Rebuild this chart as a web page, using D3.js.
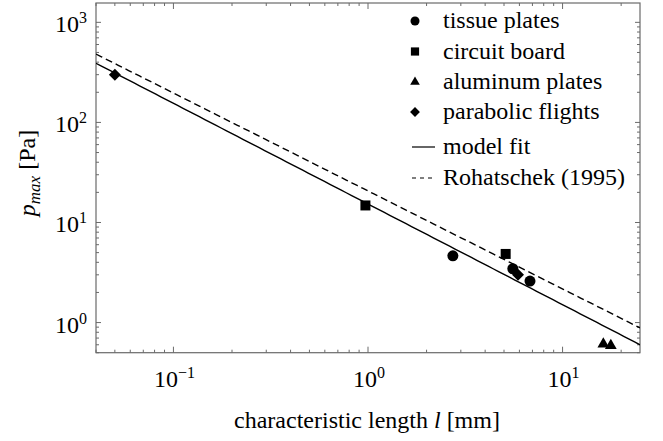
<!DOCTYPE html>
<html>
<head>
<meta charset="utf-8">
<script src="https://cdn.jsdelivr.net/npm/d3@7"></script>
<style>
  html, body { margin: 0; padding: 0; background: #fff; }
  svg { display: block; }
  svg text { font-family: "Liberation Serif", "DejaVu Serif", serif; }
</style>
</head>
<body>
<svg id="chart" width="663" height="441"></svg>
<script>
// Measured peak pressure vs characteristic length, by experiment type
const tissueLength = [2.73, 5.55, 6.8];
const tissuePressure = [4.65, 3.45, 2.6];
const circuitLength = [0.97, 5.1];
const circuitPressure = [14.8, 4.85];
const aluminumLength = [16.2, 17.7];
const aluminumPressure = [0.61, 0.59];
const parabolicLength = [0.05, 5.9];
const parabolicPressure = [300, 3.0];

// Power-law curves p = a * l^b
const modelFit = { a: 15.3, b: -1.006 };
const rohatschek = { a: 20.65, b: -0.9785 };

const xTickExps = [-1, 0, 1];
const yTickExps = [0, 1, 2, 3];

const legendItems = [
  { label: "tissue plates", kind: "circle" },
  { label: "circuit board", kind: "square" },
  { label: "aluminum plates", kind: "triangle" },
  { label: "parabolic flights", kind: "diamond" },
  { label: "model fit", kind: "solid" },
  { label: "Rohatschek (1995)", kind: "dashed" }
];

const FONT = '"Liberation Serif", "DejaVu Serif", serif';
const FS = 24;
const svg = d3.select("#chart");
const plotL = 96, plotR = 640, plotT = 3, plotB = 352.7;
const x = d3.scaleLog().domain([0.04, 25]).range([plotL, plotR]);
const y = d3.scaleLog().domain([0.5, 1560]).range([plotB, plotT]);
const axisColor = "#6a6a6a";

// clip for curves
svg.append("defs").append("clipPath").attr("id", "plotClip")
  .append("rect").attr("x", plotL).attr("y", plotT)
  .attr("width", plotR - plotL).attr("height", plotB - plotT);

// tick positions (major and minor) inside the domains
function logTicks(domain) {
  const out = [];
  const lo = Math.floor(Math.log10(domain[0])), hi = Math.ceil(Math.log10(domain[1]));
  for (let e = lo; e <= hi; e++) {
    for (let m = 1; m <= 9; m++) {
      const v = m * Math.pow(10, e);
      if (v >= domain[0] * 0.9999 && v <= domain[1] * 1.0001) out.push({ v, major: m === 1 });
    }
  }
  return out;
}

const frame = svg.append("g");
const xt = logTicks(x.domain());
const yt = logTicks(y.domain());

xt.forEach(t => {
  const px = x(t.v), len = t.major ? 6 : 3;
  frame.append("line").attr("x1", px).attr("x2", px).attr("y1", plotB).attr("y2", plotB - len)
    .attr("stroke", axisColor).attr("stroke-width", 1);
  frame.append("line").attr("x1", px).attr("x2", px).attr("y1", plotT).attr("y2", plotT + len)
    .attr("stroke", axisColor).attr("stroke-width", 1);
});
yt.forEach(t => {
  const py = y(t.v), len = t.major ? 5 : 3;
  frame.append("line").attr("x1", plotL).attr("x2", plotL + len).attr("y1", py).attr("y2", py)
    .attr("stroke", axisColor).attr("stroke-width", 1);
  frame.append("line").attr("x1", plotR).attr("x2", plotR - len).attr("y1", py).attr("y2", py)
    .attr("stroke", axisColor).attr("stroke-width", 1);
});
frame.append("rect").attr("x", plotL).attr("y", plotT)
  .attr("width", plotR - plotL).attr("height", plotB - plotT)
  .attr("fill", "none").attr("stroke", axisColor).attr("stroke-width", 1.2);

// power-of-ten tick labels
function powerLabel(g, e, anchor) {
  const t = g.append("text").attr("text-anchor", anchor).attr("font-size", FS)
    .attr("font-family", FONT).attr("fill", "#000");
  t.append("tspan").text("10");
  t.append("tspan").attr("dy", -9).attr("font-size", 16).text(e < 0 ? "\u2212" + (-e) : String(e));
  return t;
}
xTickExps.forEach(e => {
  powerLabel(svg, e, "middle").attr("x", x(Math.pow(10, e)) + 1).attr("y", 387);
});
yTickExps.forEach(e => {
  powerLabel(svg, e, "end").attr("x", 87).attr("y", y(Math.pow(10, e)) + 10);
});

// axis titles
const xl = svg.append("text").attr("x", 367).attr("y", 428).attr("text-anchor", "middle")
  .attr("font-family", FONT).attr("font-size", FS);
xl.append("tspan").text("characteristic length ");
xl.append("tspan").attr("font-style", "italic").text("l");
xl.append("tspan").text(" [mm]");

const yl = svg.append("text").attr("transform", "translate(35,173) rotate(-90)")
  .attr("text-anchor", "middle").attr("font-family", FONT).attr("font-size", FS);
yl.append("tspan").attr("font-style", "italic").text("p");
yl.append("tspan").attr("font-style", "italic").attr("font-size", 17).attr("dy", 5).text("max");
yl.append("tspan").attr("dy", -5).text(" [Pa]");

// fitted curves
const curveXs = d3.range(0, 101).map(i => 0.04 * Math.pow(25 / 0.04, i / 100));
const line = d3.line().x(d => x(d[0])).y(d => y(d[1]));
const curves = svg.append("g").attr("clip-path", "url(#plotClip)");
curves.append("path").datum(curveXs.map(l => [l, modelFit.a * Math.pow(l, modelFit.b)]))
  .attr("d", line).attr("fill", "none").attr("stroke", "#000").attr("stroke-width", 1.4);
curves.append("path").datum(curveXs.map(l => [l, rohatschek.a * Math.pow(l, rohatschek.b)]))
  .attr("d", line).attr("fill", "none").attr("stroke", "#000").attr("stroke-width", 1.4)
  .attr("stroke-dasharray", "7,4");

// marker shapes
function markerPath(kind, scale) {
  const s = scale || 1;
  if (kind === "circle") return { d: d3.symbol(d3.symbolCircle, 95 * s * s)(), rot: 0 };
  if (kind === "square") return { d: d3.symbol(d3.symbolSquare, 100 * s * s)(), rot: 0 };
  if (kind === "triangle") return { d: d3.symbol(d3.symbolTriangle, 60 * s * s)(), rot: 0 };
  return { d: d3.symbol(d3.symbolSquare, 72 * s * s)(), rot: 45 };
}

const series = [
  { kind: "circle", ls: tissueLength, ps: tissuePressure },
  { kind: "square", ls: circuitLength, ps: circuitPressure },
  { kind: "triangle", ls: aluminumLength, ps: aluminumPressure },
  { kind: "diamond", ls: parabolicLength, ps: parabolicPressure }
];
const pts = svg.append("g");
series.forEach(s => {
  const m = markerPath(s.kind);
  s.ls.forEach((l, i) => {
    pts.append("path").attr("d", m.d).attr("fill", "#000")
      .attr("transform", `translate(${x(l)},${y(s.ps[i])}) rotate(${m.rot})`);
  });
});

// legend
const legendY = [21, 51.5, 82, 112, 147, 178];
const lg = svg.append("g");
legendItems.forEach((item, i) => {
  const cy = legendY[i];
  if (item.kind === "solid" || item.kind === "dashed") {
    const ln = lg.append("line").attr("x1", 412).attr("x2", 435).attr("y1", cy).attr("y2", cy)
      .attr("stroke", "#000").attr("stroke-width", 1.2);
    if (item.kind === "dashed") ln.attr("stroke-dasharray", "4,4");
  } else {
    const m = markerPath(item.kind, 0.82);
    lg.append("path").attr("d", m.d).attr("fill", "#000")
      .attr("transform", `translate(415,${cy}) rotate(${m.rot})`);
  }
  lg.append("text").attr("x", 443).attr("y", cy + 7)
    .attr("font-family", FONT).attr("font-size", FS).text(item.label);
});
</script>
</body>
</html>
